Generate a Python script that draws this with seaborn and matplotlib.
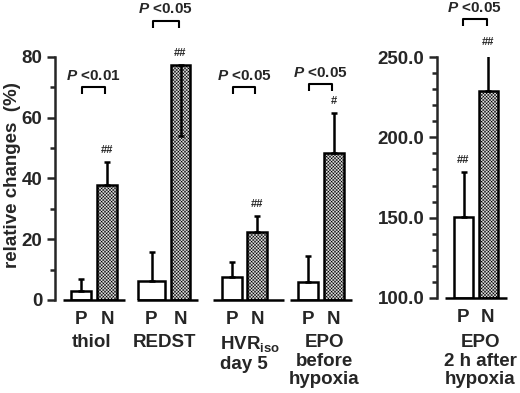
import matplotlib
matplotlib.use("Agg")
import matplotlib.pyplot as plt
from matplotlib.ticker import MultipleLocator, FormatStrFormatter
import pandas as pd
import seaborn as sns

sns.set_theme(style="ticks")
plt.rcParams['font.family'] = ['Liberation Sans', 'DejaVu Sans']
plt.rcParams['font.weight'] = 'bold'
plt.rcParams['mathtext.fontset'] = 'custom'
plt.rcParams['mathtext.rm'] = 'Liberation Sans:bold'
plt.rcParams['mathtext.bf'] = 'Liberation Sans:bold'
plt.rcParams['mathtext.it'] = 'Liberation Sans:italic:bold'
plt.rcParams['hatch.linewidth'] = 0.35

# data
groups = ["thiol", "REDST", "HVR$_{\\mathbf{iso}}$\nday 5", "EPO\nbefore\nhypoxia"]
p_mean = [3.0, 6.3, 7.5, 5.9]
p_err_end = [7.0, 15.9, 12.5, 14.5]
n_mean = [38.0, 77.4, 22.5, 48.4]
n_err_end = [45.5, 54.0, 27.6, 61.6]
p_labels = ["P <0.01", "P <0.05", "P <0.05", "P <0.05"]
n_marks = ["##", "##", "##", "#"]
bracket_y = [70.0, 92.0, 70.0, 71.0]

epo2h_label = "EPO\n2 h after\nhypoxia"
epo2h_mean = [150.4, 228.8]
epo2h_err_end = [178.4, 251.9]
epo2h_marks = ["##", "##"]
epo2h_p = "P <0.05"
epo2h_bracket = 273.6

# layout (pixel units, x axis in pixels)
W, H = 520, 393
p_x = [81, 151.5, 232, 308]
p_w = [20, 27, 20, 20]
n_x = [107, 180.5, 257, 334]
n_w = [20, 19, 20, 20]
base_span = [(63, 125), (137, 198), (213, 284), (290, 352)]
r_x = [463.5, 488]
r_span = (445, 507)

fig = plt.figure(figsize=(W / 100, H / 100), dpi=100)
axl = fig.add_axes([55 / W, (H - 300) / H, (360 - 55) / W, 243 / H])
axr = fig.add_axes([437 / W, (H - 298) / H, (515 - 437) / W, 241 / H])

N_FACE = "#dadada"
LW = 1.8


def bars(ax, xs, means, widths, face, hatch):
    df = pd.DataFrame({"x": xs, "y": means})
    n0 = len(ax.patches)
    sns.barplot(data=df, x="x", y="y", native_scale=True, color=face,
                saturation=1, edgecolor="black", linewidth=LW, errorbar=None,
                ax=ax, zorder=2)
    for p, x, w in zip(ax.patches[n0:], xs, widths):
        p.set_x(x - w / 2)
        p.set_width(w)
        if hatch:
            p.set_hatch(hatch)


def errs(ax, xs, means, ends):
    lo = [max(m - e, 0) for m, e in zip(means, ends)]
    hi = [max(e - m, 0) for m, e in zip(means, ends)]
    ax.errorbar(xs, means, yerr=[lo, hi], fmt="none", ecolor="black",
                elinewidth=LW, capsize=2.5, capthick=LW, zorder=3)


def bracket(ax, x0, x1, y, drop, label):
    ax.plot([x0, x0, x1, x1], [y - drop, y, y, y - drop], color="black",
            lw=1.5, clip_on=False, solid_capstyle="butt")
    ax.annotate(label.replace("P", "$\\mathit{P}$"), (0.5 * (x0 + x1), y),
                xytext=(0, 8), textcoords="offset points", ha="center",
                va="center", fontsize=11, fontweight="bold",
                annotation_clip=False)


def marks(ax, xs, tops, labels):
    for x, t, m in zip(xs, tops, labels):
        ax.annotate(m, (x, t), xytext=(0, 8.5), textcoords="offset points",
                    ha="center", va="center", fontsize=8, fontweight="bold",
                    annotation_clip=False)


# left panel
bars(axl, p_x, p_mean, p_w, "white", None)
bars(axl, n_x, n_mean, n_w, N_FACE, "xxxxxxxxxx")
errs(axl, p_x, p_mean, p_err_end)
errs(axl, n_x, n_mean, n_err_end)
for (a, b) in base_span:
    axl.plot([a, b], [0, 0], color="black", lw=LW, clip_on=False,
             solid_capstyle="butt")
for i in range(len(groups)):
    bracket(axl, p_x[i] + 1, n_x[i] - 2, bracket_y[i], 2.3, p_labels[i])
marks(axl, n_x, [max(m, e) for m, e in zip(n_mean, n_err_end)], n_marks)
axl.set_xlim(55, 360)
axl.set_ylim(0, 80)
axl.yaxis.set_major_locator(MultipleLocator(20))
axl.yaxis.set_minor_locator(MultipleLocator(10))
axl.spines["left"].set_bounds(0, 80)

# right panel
bars(axr, [r_x[0]], [epo2h_mean[0]], [19], "white", None)
bars(axr, [r_x[1]], [epo2h_mean[1]], [19], N_FACE, "xxxxxxxxxx")
for p in axr.patches:
    p.set_y(100)
    p.set_height(p.get_height() - 100)
errs(axr, r_x, epo2h_mean, epo2h_err_end)
axr.plot(list(r_span), [100, 100], color="black", lw=LW, clip_on=False,
         solid_capstyle="butt")
bracket(axr, r_x[0] - 1, r_x[1] - 1, epo2h_bracket, 4.4, epo2h_p)
marks(axr, r_x, epo2h_err_end, epo2h_marks)
axr.set_xlim(437, 515)
axr.set_ylim(100, 250)
axr.yaxis.set_major_locator(MultipleLocator(50))
axr.yaxis.set_minor_locator(MultipleLocator(10))
axr.yaxis.set_major_formatter(FormatStrFormatter("%.1f"))
axr.spines["left"].set_bounds(100, 250)

for ax, xs in ((axl, p_x + n_x), (axr, r_x)):
    for s in ("top", "right", "bottom"):
        ax.spines[s].set_visible(False)
    ax.spines["left"].set_linewidth(LW)
    ax.set_xlabel("")
    ax.set_ylabel("")
    ax.set_xticks(xs, ["P"] * (len(xs) // 2) + ["N"] * (len(xs) // 2))
    ax.tick_params(axis="x", length=0, pad=8, labelsize=13.5)
    ax.tick_params(axis="y", which="major", length=6, width=LW, pad=3,
                   labelsize=13.5)
    ax.tick_params(axis="y", which="minor", length=3.5, width=LW)
    for t in ax.get_xticklabels() + ax.get_yticklabels():
        t.set_fontweight("bold")
    ax.patch.set_alpha(0)

# group labels
label_pos = [(92, "center"), (165, "center"), (220, "left"), (324, "center")]
for g, (x, ha) in zip(groups, label_pos):
    fig.text(x / W, 1 - 334 / H, g, ha=ha, va="top", fontsize=13.5,
             fontweight="bold", multialignment=ha, linespacing=1.12)
fig.text(480 / W, 1 - 334 / H, epo2h_label, ha="center", va="top",
         fontsize=13.5, fontweight="bold", linespacing=1.12)

fig.text(13 / W, 1 - 175 / H, "relative changes  (%)", rotation=90,
         ha="center", va="center", fontsize=13.5, fontweight="bold")

fig.savefig("out.png", dpi=100, facecolor="white")
